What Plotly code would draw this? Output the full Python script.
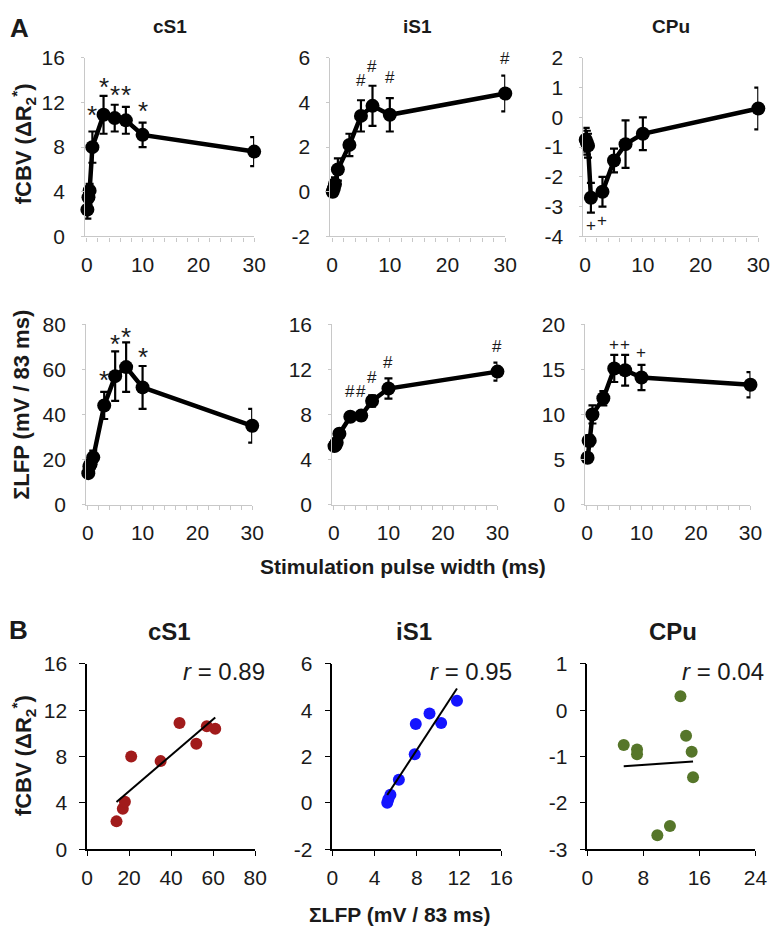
import numpy as np
import plotly.graph_objects as go

W, H = 783, 948

# ---------------- data ----------------
pulse_width = [0.1, 0.3, 0.5, 1, 3, 5, 7, 10, 30]  # ms

cbv_cS1 = [2.4, 3.5, 4.1, 8.0, 10.9, 10.6, 10.4, 9.1, 7.6]
cbv_cS1_err = [0.8, 0.6, 0.6, 1.4, 1.7, 1.2, 1.2, 1.1, 1.3]
cbv_iS1 = [0.0, 0.15, 0.35, 1.0, 2.1, 3.4, 3.85, 3.45, 4.4]
cbv_iS1_err = [0.2, 0.2, 0.3, 0.5, 0.5, 0.7, 0.9, 0.75, 0.8]
cbv_CPu = [-0.75, -0.85, -0.95, -2.7, -2.5, -1.45, -0.9, -0.55, 0.3]
cbv_CPu_err = [0.4, 0.4, 0.4, 0.5, 0.5, 0.4, 0.8, 0.55, 0.7]

lfp_cS1 = [14, 17, 18, 21, 44, 57, 61, 52, 35]
lfp_cS1_err = [2, 2, 2, 3, 6, 11, 11, 9.5, 7.5]
lfp_iS1 = [5.2, 5.3, 5.5, 6.3, 7.8, 7.9, 9.2, 10.3, 11.8]
lfp_iS1_err = [0.3, 0.3, 0.3, 0.4, 0.4, 0.4, 0.5, 0.9, 0.8]
lfp_CPu = [5.2, 7.1, 7.1, 10.0, 11.8, 15.1, 14.9, 14.1, 13.3]
lfp_CPu_err = [0.4, 0.6, 0.6, 1.0, 0.8, 1.5, 1.7, 1.4, 1.4]

regions = ["cS1", "iS1", "CPu"]
r_values = ["0.89", "0.95", "0.04"]
scatter_colors = ["#a11b1b", "#1414ff", "#56762a"]

# significance marks: (x, y, text)
sig_cbv = {
    "cS1": [(1, 11.4, "*"), (3, 13.9, "*"), (5, 13.2, "*"), (7, 13.2, "*"), (10, 11.8, "*")],
    "iS1": [(5, 5.0, "#"), (7, 5.6, "#"), (10, 5.1, "#"), (30, 5.95, "#")],
    "CPu": [(1, -3.65, "+"), (3, -3.45, "+")],
}
sig_lfp = {
    "cS1": [(3, 58, "*"), (5, 74, "*"), (7, 77, "*"), (10, 68, "*")],
    "iS1": [(3, 10.0, "#"), (5, 10.0, "#"), (7, 11.3, "#"), (10, 12.6, "#"), (30, 14.0, "#")],
    "CPu": [(5, 17.8, "+"), (7, 17.8, "+"), (10, 16.9, "+")],
}

# ---------------- layout geometry (pixels) ----------------
row1_x = [(81, 254), (332, 511), (591, 770)]
row2_x = [(82, 252), (334, 503), (593, 762)]
row3_x = [(83, 255), (334, 507), (595, 767)]
row1_y = (47, 230)
row2_y = (320, 505)
row3_y = (668, 858)

cbv_ranges = [[0, 16], [-2, 6], [-4, 2]]
cbv_ticks = [[0, 4, 8, 12, 16], [-2, 0, 2, 4, 6], [-4, -3, -2, -1, 0, 1, 2]]
lfp_ranges = [[0, 80], [0, 16], [0, 20]]
lfp_ticks = [[0, 20, 40, 60, 80], [0, 4, 8, 12, 16], [0, 5, 10, 15, 20]]
sc_x_ranges = [[0, 80], [0, 16], [0, 24]]
sc_x_ticks = [[0, 20, 40, 60, 80], [0, 4, 8, 12, 16], [0, 8, 16, 24]]
sc_y_ranges = [[0, 16], [-2, 6], [-3, 1]]
sc_y_ticks = [[0, 4, 8, 12, 16], [-2, 0, 2, 4, 6], [-3, -2, -1, 0, 1]]
pw_ticks = [0, 10, 20, 30]

FONT = "Liberation Sans, Arial, sans-serif"
GRAY = "#c8c8c8"
TXT = "#1a1a1a"
TICKSIZE = 21


def dx(px):
    return (px[0] / W, px[1] / W)


def dy(py):
    return (1 - py[1] / H, 1 - py[0] / H)


def lab(v):
    return [str(t) for t in v]


def paper_text(xp, yp, text, size, angle=0, xanchor="center"):
    return dict(x=xp / W, y=1 - yp / H, xref="paper", yref="paper", text=text,
                showarrow=False, xanchor=xanchor, yanchor="middle", textangle=angle,
                font=dict(size=size, color=TXT, family=FONT))


fig = go.Figure()
layout = {}
annotations = []

cbv_data = [(cbv_cS1, cbv_cS1_err), (cbv_iS1, cbv_iS1_err), (cbv_CPu, cbv_CPu_err)]
lfp_data = [(lfp_cS1, lfp_cS1_err), (lfp_iS1, lfp_iS1_err), (lfp_CPu, lfp_CPu_err)]

idx = 0
for row, (xs_dom, ys_dom, datasets, yranges, yticks, sigs) in enumerate([
    (row1_x, row1_y, cbv_data, cbv_ranges, cbv_ticks, sig_cbv),
    (row2_x, row2_y, lfp_data, lfp_ranges, lfp_ticks, sig_lfp),
]):
    for c in range(3):
        idx += 1
        xa = "x" if idx == 1 else f"x{idx}"
        ya = "y" if idx == 1 else f"y{idx}"
        vals, errs = datasets[c]
        fig.add_trace(go.Scatter(
            x=pulse_width, y=vals, xaxis=xa, yaxis=ya, mode="lines+markers",
            line=dict(color="black", width=4.5),
            marker=dict(color="black", size=14),
            error_y=dict(type="data", array=errs, color="black", thickness=2.2, width=4),
            showlegend=False, hoverinfo="skip", cliponaxis=False,
        ))
        layout["xaxis" if idx == 1 else f"xaxis{idx}"] = dict(
            domain=dx(xs_dom[c]), range=[-0.3, 30], anchor=ya,
            tickvals=pw_ticks, ticktext=lab(pw_ticks),
            ticks="outside", ticklen=4, tickcolor=GRAY, ticklabelstandoff=5,
            minor=dict(dtick=2, tick0=0, ticks="outside", ticklen=4, tickcolor=GRAY),
            showline=True, linecolor=GRAY, linewidth=1.2, showgrid=False, zeroline=False,
            tickfont=dict(size=TICKSIZE, color=TXT, family=FONT),
        )
        layout["yaxis" if idx == 1 else f"yaxis{idx}"] = dict(
            domain=dy(ys_dom), range=yranges[c], anchor=xa,
            tickvals=yticks[c], ticktext=lab(yticks[c]),
            ticks="outside", ticklen=3, tickcolor=GRAY, ticklabelstandoff=12,
            showline=True, linecolor=GRAY, linewidth=1.2, showgrid=False, zeroline=False,
            tickfont=dict(size=TICKSIZE, color=TXT, family=FONT),
        )
        for (sx, sy, st) in sigs[regions[c]]:
            size = {"*": 26, "#": 17, "+": 17}[st]
            annotations.append(dict(
                x=sx, y=sy, xref=xa, yref=ya, text=st, showarrow=False,
                xanchor="center", yanchor="middle", yshift=-6 if st == "*" else 0,
                font=dict(size=size, color=TXT, family=FONT),
            ))
        if row == 0:
            annotations.append(paper_text((xs_dom[c][0] + xs_dom[c][1]) / 2, 15,
                                          f"<b>{regions[c]}</b>", 19))

# ---- row 3: scatter correlation ----
for c in range(3):
    idx += 1
    xa = f"x{idx}"
    ya = f"y{idx}"
    lx = np.array(lfp_data[c][0], dtype=float)
    cy = np.array(cbv_data[c][0], dtype=float)
    fig.add_trace(go.Scatter(
        x=lx, y=cy, xaxis=xa, yaxis=ya, mode="markers",
        marker=dict(color=scatter_colors[c], size=12),
        showlegend=False, hoverinfo="skip",
    ))
    slope, inter = np.polyfit(lx, cy, 1)
    fx = np.array([lx.min(), lx.max()])
    fig.add_trace(go.Scatter(
        x=fx, y=slope * fx + inter, xaxis=xa, yaxis=ya, mode="lines",
        line=dict(color="black", width=2), showlegend=False, hoverinfo="skip",
    ))
    layout[f"xaxis{idx}"] = dict(
        domain=dx(row3_x[c]), range=sc_x_ranges[c], anchor=ya,
        tickvals=sc_x_ticks[c], ticktext=lab(sc_x_ticks[c]),
        ticks="outside", ticklen=5, tickcolor="black", ticklabelstandoff=4,
        showline=True, linecolor="black", linewidth=1.5, showgrid=False, zeroline=False,
        tickfont=dict(size=TICKSIZE, color=TXT, family=FONT),
    )
    layout[f"yaxis{idx}"] = dict(
        domain=dy(row3_y), range=sc_y_ranges[c], anchor=xa,
        tickvals=sc_y_ticks[c], ticktext=lab(sc_y_ticks[c]),
        ticks="outside", ticklen=6, tickcolor="black", ticklabelstandoff=8,
        showline=True, linecolor="black", linewidth=1.5, showgrid=False, zeroline=False,
        tickfont=dict(size=TICKSIZE, color=TXT, family=FONT),
    )
    r_right = [267, 520, 778][c]
    annotations.append(paper_text(r_right, 676, f"<i>r</i> = {r_values[c]}", 24, xanchor="right"))
    annotations.append(paper_text([167, 418, 683][c], 635, f"<b>{regions[c]}</b>", 24))

# ---- axis titles and panel letters ----
annotations += [
    paper_text(14, 16, "<b>A</b>", 26),
    paper_text(13, 633, "<b>B</b>", 26),
    paper_text(18, 135, "<b>fCBV (ΔR<sub>2</sub><sup>*</sup>)</b>", 22, angle=-90),
    paper_text(16, 403, "<b>ΣLFP (mV / 83 ms)</b>", 22, angle=-90),
    paper_text(18, 762, "<b>fCBV (ΔR<sub>2</sub><sup>*</sup>)</b>", 22, angle=-90),
    paper_text(406, 568, "<b>Stimulation pulse width (ms)</b>", 21),
    paper_text(403, 925, "<b>ΣLFP (mV / 83 ms)</b>", 21),
]

fig.update_layout(
    width=W, height=H, margin=dict(l=0, r=0, t=0, b=0),
    paper_bgcolor="white", plot_bgcolor="white",
    annotations=annotations, showlegend=False,
    font=dict(family=FONT),
    **layout,
)

# let the 783x948 figure fill the page exactly (no default body margin)
fig.write_html(
    "out.html",
    config={"displayModeBar": False},
    post_script="document.body.style.margin='0px';document.body.style.padding='0px';"
                "document.documentElement.style.overflow='hidden';",
)
